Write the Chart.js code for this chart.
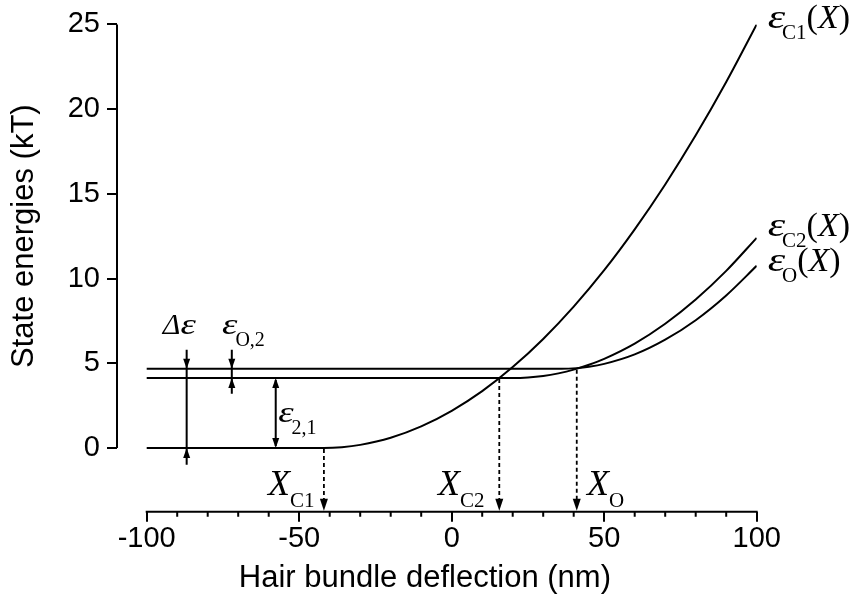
<!DOCTYPE html>
<html>
<head>
<meta charset="utf-8">
<script src="https://cdn.jsdelivr.net/npm/chart.js@4.4.0/dist/chart.umd.min.js"></script>
<style>
  html, body { margin: 0; padding: 0; background: #fff; }
</style>
</head>
<body>
<canvas id="energyChart" width="852" height="601"></canvas>
<script>
// hair bundle deflection X (nm) and state energies (kT)
const xC1 = [-100, -42, -36, -30, -20, -10, 0, 10, 20, 30, 40, 50, 60, 70, 80, 90, 100];
const eC1 = [0, 0, 0.045, 0.18, 0.60, 1.27, 2.19, 3.35, 4.77, 6.43, 8.34, 10.49, 12.90, 15.55, 18.45, 21.60, 25.0];

const xC2 = [-100, 20, 25, 30, 35, 40, 45, 50, 60, 70, 80, 90, 100];
const eC2 = [4.12, 4.12, 4.15, 4.24, 4.40, 4.62, 4.91, 5.26, 6.16, 7.33, 8.76, 10.45, 12.40];

const xO = [-100, 36, 41, 45, 50, 60, 70, 80, 90, 100];
const eO = [4.67, 4.67, 4.71, 4.79, 4.96, 5.52, 6.39, 7.54, 9.00, 10.75];

const xTicks = [-100, -50, 0, 50, 100];
const xMinorTicks = [-90, -80, -70, -60, -40, -30, -20, -10, 10, 20, 30, 40, 60, 70, 80, 90];
const yTicks = [0, 5, 10, 15, 20, 25];

// energy gaps marked with arrows: x, from, to
const gapX = [-86.9, -72.1, -57.7];
const gapTop = [4.67, 4.67, 4.12];
const gapBottom = [0, 4.12, 0];

// crossing points dropped onto the x axis
const dropX = [-41.9, 15.6, 41.0];
const dropY = [0, 4.12, 4.67];

const toPts = (xs, ys) => xs.map((x, i) => ({ x: x, y: ys[i] }));

const sans = '"Liberation Sans", Arial, sans-serif';
const serif = '"Liberation Serif", "Times New Roman", serif';

// draws a run of text pieces; sx widens a glyph (the figure's epsilon is broad)
function rich(ctx, x, y, parts) {
  ctx.textAlign = 'left';
  ctx.textBaseline = 'alphabetic';
  parts.forEach(p => {
    const sx = p.sx || 1;
    x += p.dx || 0;
    ctx.font = p.f;
    ctx.save();
    ctx.translate(x, y + (p.dy || 0));
    ctx.scale(sx, 1);
    ctx.fillText(p.t, 0, 0);
    ctx.restore();
    x += ctx.measureText(p.t).width * sx;
  });
}

function head(ctx, x, tip, dir, len, hw) {
  ctx.beginPath();
  ctx.moveTo(x, tip);
  ctx.lineTo(x - hw, tip - dir * len);
  ctx.lineTo(x + hw, tip - dir * len);
  ctx.closePath();
  ctx.fill();
}

const decor = {
  id: 'decor',
  afterDraw(chart) {
    const ctx = chart.ctx;
    const xs = chart.scales.x, ys = chart.scales.y;
    const area = chart.chartArea;
    ctx.save();
    ctx.strokeStyle = '#000';
    ctx.fillStyle = '#000';
    ctx.lineWidth = 2;

    // detached axes
    ctx.beginPath();
    ctx.moveTo(area.left, ys.getPixelForValue(25));
    ctx.lineTo(area.left, ys.getPixelForValue(0));
    ctx.moveTo(xs.getPixelForValue(-100) - 1, area.bottom);
    ctx.lineTo(xs.getPixelForValue(100) + 1, area.bottom);
    xMinorTicks.forEach(v => {
      const px = xs.getPixelForValue(v);
      ctx.moveTo(px, area.bottom);
      ctx.lineTo(px, area.bottom + 5);
    });
    ctx.stroke();

    // gap arrows
    const len = 10, hw = 3.5;
    const xa = xs.getPixelForValue(gapX[0]);
    const xb = xs.getPixelForValue(gapX[1]);
    const xc = xs.getPixelForValue(gapX[2]);
    ctx.beginPath();
    ctx.moveTo(xa, ys.getPixelForValue(5.8));
    ctx.lineTo(xa, ys.getPixelForValue(-1.0));
    ctx.moveTo(xb, ys.getPixelForValue(5.8));
    ctx.lineTo(xb, ys.getPixelForValue(3.2));
    ctx.moveTo(xc, ys.getPixelForValue(gapTop[2]) + 2);
    ctx.lineTo(xc, ys.getPixelForValue(gapBottom[2]) - 2);
    ctx.stroke();
    head(ctx, xa, ys.getPixelForValue(gapTop[0]), 1, len, hw);
    head(ctx, xa, ys.getPixelForValue(gapBottom[0]), -1, len, hw);
    head(ctx, xb, ys.getPixelForValue(gapTop[1]), 1, len, hw);
    head(ctx, xb, ys.getPixelForValue(gapBottom[1]), -1, len, hw);
    head(ctx, xc, ys.getPixelForValue(gapTop[2]), -1, len, hw);
    head(ctx, xc, ys.getPixelForValue(gapBottom[2]), 1, len, hw);

    // dashed drops
    ctx.lineWidth = 1.8;
    ctx.setLineDash([4, 3]);
    ctx.beginPath();
    dropX.forEach((v, i) => {
      const px = xs.getPixelForValue(v);
      ctx.moveTo(px, ys.getPixelForValue(dropY[i]) + 1);
      ctx.lineTo(px, area.bottom - 8);
    });
    ctx.stroke();
    ctx.setLineDash([]);
    dropX.forEach(v => head(ctx, xs.getPixelForValue(v), area.bottom - 1, 1, 12, 4));

    // labels
    const it = s => 'italic ' + s + 'px ' + serif;
    const up = s => s + 'px ' + serif;
    const P = (x, y) => [xs.getPixelForValue(x), ys.getPixelForValue(y)];
    const eps = s => ({ t: 'ε', f: it(s), sx: 1.3 });
    const curveLabel = (x, y, sub) => {
      const p = P(x, y);
      rich(ctx, p[0], p[1], [eps(34), { t: sub, f: up(21), dy: 11, dx: -3 },
        { t: '(', f: up(34) }, { t: 'X', f: it(34) }, { t: ')', f: up(34) }]);
    };
    curveLabel(103.6, 24.8, 'C1');
    curveLabel(103.6, 12.5, 'C2');
    curveLabel(103.6, 10.45, 'O');

    let p = P(-94.7, 6.75);
    rich(ctx, p[0], p[1], [{ t: 'Δ', f: it(30) }, eps(30)]);
    p = P(-75.3, 6.75);
    rich(ctx, p[0], p[1], [eps(30), { t: 'O,2', f: up(20), dy: 12, dx: -2 }]);
    p = P(-56.9, 1.55);
    rich(ctx, p[0], p[1], [eps(30), { t: '2,1', f: up(20), dy: 12, dx: -2 }]);

    const xLabel = (x, sub) => {
      const q = P(x, -2.78);
      rich(ctx, q[0], q[1], [{ t: 'X', f: it(36) }, { t: sub, f: up(21), dy: 12 }]);
    };
    xLabel(-60.2, 'C1');
    xLabel(-4.5, 'C2');
    xLabel(44.4, 'O');

    // axis titles
    ctx.font = '31px ' + sans;
    ctx.textAlign = 'center';
    ctx.textBaseline = 'alphabetic';
    ctx.fillText('Hair bundle deflection (nm)', xs.getPixelForValue(-8.8), 587);
    ctx.translate(33, ys.getPixelForValue(12.5));
    ctx.rotate(-Math.PI / 2);
    ctx.fillText('State energies (kT)', 0, 0);
    ctx.restore();
  }
};

const lineStyle = {
  borderColor: '#000',
  borderWidth: 2,
  pointRadius: 0,
  fill: false,
  cubicInterpolationMode: 'monotone'
};

new Chart(document.getElementById('energyChart'), {
  type: 'line',
  data: {
    datasets: [
      Object.assign({ label: 'εC1(X)', data: toPts(xC1, eC1) }, lineStyle),
      Object.assign({ label: 'εC2(X)', data: toPts(xC2, eC2) }, lineStyle),
      Object.assign({ label: 'εO(X)', data: toPts(xO, eO) }, lineStyle)
    ]
  },
  options: {
    responsive: false,
    animation: false,
    events: [],
    layout: { padding: { left: 0, right: 95.3, top: 22.7, bottom: 0 } },
    plugins: { legend: { display: false }, tooltip: { enabled: false } },
    scales: {
      x: {
        type: 'linear',
        min: -109.74,
        max: 100,
        afterBuildTicks: s => { s.ticks = xTicks.map(v => ({ value: v })); },
        afterFit: s => { s.height = 89.3; },
        border: { display: false },
        grid: { drawOnChartArea: false, tickLength: 10, color: '#000', lineWidth: 2 },
        ticks: { color: '#000', padding: 0, maxRotation: 0, autoSkip: false,
                 font: { family: sans, size: 29 }, callback: v => String(v) }
      },
      y: {
        type: 'linear',
        min: -3.765,
        max: 25,
        afterBuildTicks: s => { s.ticks = yTicks.map(v => ({ value: v })); },
        afterFit: s => { s.width = 117; },
        border: { display: false },
        grid: { drawOnChartArea: false, tickLength: 10, color: '#000', lineWidth: 2 },
        ticks: { color: '#000', padding: 7, autoSkip: false,
                 font: { family: sans, size: 29 }, callback: v => String(v) }
      }
    }
  },
  plugins: [decor]
});
</script>
</body>
</html>
